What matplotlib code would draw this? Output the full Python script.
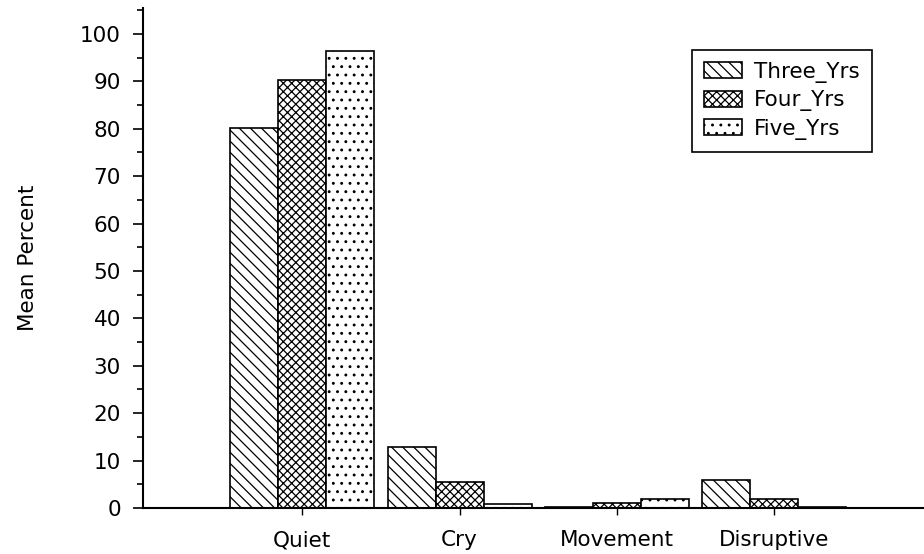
import numpy as np
from matplotlib import pyplot as plt
from matplotlib.ticker import MultipleLocator

categorias = ["Quiet", "Cry", "Movement", "Disruptive"]
series = ["Three_Yrs", "Four_Yrs", "Five_Yrs"]
three_yrs = [80.2, 12.9, 0.3, 6.0]
four_yrs = [90.2, 5.5, 1.1, 2.0]
five_yrs = [96.3, 0.9, 2.0, 0.3]
hatches = ['\\\\\\', 'xxxx', '..']

plt.rcParams['font.family'] = ['DejaVu Sans']
plt.rcParams['hatch.linewidth'] = 0.9

fig = plt.figure(figsize=(9.24, 5.54), dpi=100)
ax = fig.add_axes([0.155, 0.083, 0.845, 0.903])

x = np.arange(len(categorias))
w = 0.305
for k, (vals, nome) in enumerate(zip([three_yrs, four_yrs, five_yrs], series)):
    ax.bar(x + (k - 1) * w, vals, w, label=nome, color='white',
           edgecolor='black', linewidth=1.2, hatch=hatches[k])

ax.set_xlim(-1.01, 3.95)
ax.set_ylim(0, 105.5)
ax.set_xticks(x)
ax.set_xticklabels(categorias)
ax.set_yticks(np.arange(0, 101, 10))
ax.yaxis.set_minor_locator(MultipleLocator(5))
ax.tick_params(axis='y', which='major', length=7, width=1.2, labelsize=15.5, pad=9)
ax.tick_params(axis='y', which='minor', length=4, width=1.2)
ax.tick_params(axis='x', length=5, width=1, labelsize=15.5, pad=11)
for s in ['top', 'right']:
    ax.spines[s].set_visible(False)
for s in ['left', 'bottom']:
    ax.spines[s].set_linewidth(1.5)
ax.set_ylabel("Mean Percent", fontsize=15.5, labelpad=30)

leg = ax.legend(loc='upper right', bbox_to_anchor=(0.933, 0.916), borderaxespad=0,
                fontsize=15.5, fancybox=False, edgecolor='black', framealpha=1,
                handlelength=1.8, handleheight=0.75, handletextpad=0.55,
                labelspacing=0.35, borderpad=0.55)
leg.get_frame().set_linewidth(1.2)

fig.savefig("out.png", dpi=100)
